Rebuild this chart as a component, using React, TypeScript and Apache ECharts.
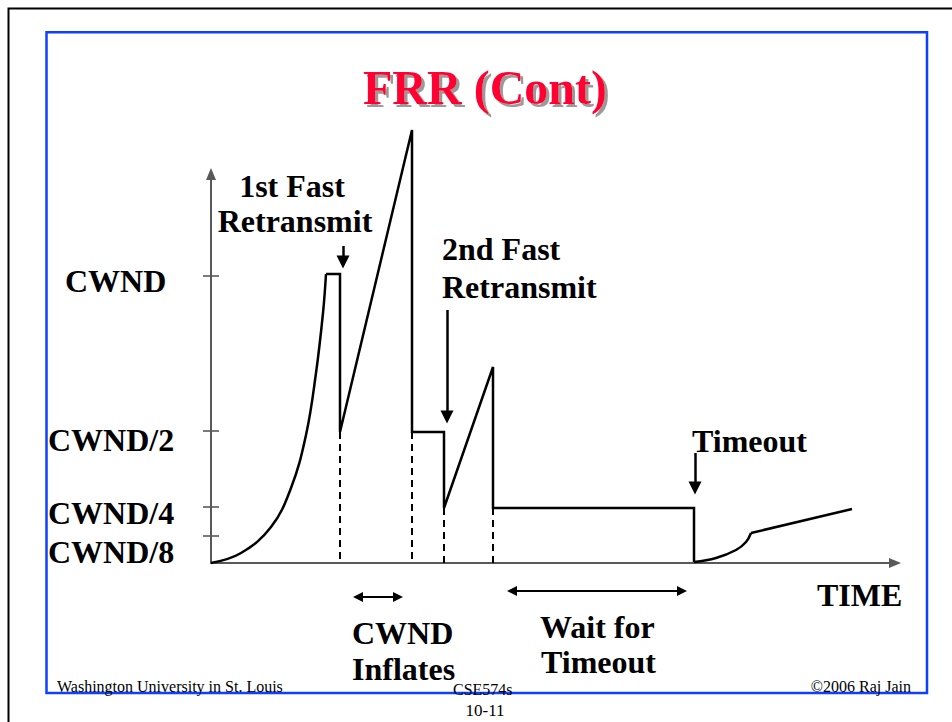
import React, { useEffect, useRef } from "react";
import * as echarts from "echarts";

// Time axis in drawing units (0 = origin), window size in drawing units (0 = origin)
const slowStartT = [0, 30, 60, 80, 95, 105, 112, 115];
const slowStartW = [0, 10, 36, 75, 128, 190, 250, 289];
const recoveryT = [115, 129, 129, 201, 201, 233, 233, 282, 282, 483, 483];
const recoveryW = [289, 289, 131, 433, 131, 131, 55, 196, 55, 55, 1];
const restartT = [483, 505, 525, 535, 540];
const restartW = [1, 5, 13, 21, 30];
const avoidT = [540, 641];
const avoidW = [30, 54];
const dashedT = [129, 201, 233, 282];
const dashedTop = [131, 131, 55, 55];
const yTickValues = [287, 132, 56, 27];
const yTickLabels = ["CWND", "CWND/2", "CWND/4", "CWND/8"];
// event arrows: x, from-y, to-y
const eventArrowX = [132, 236, 484];
const eventArrowFrom = [317, 253, 110];
const eventArrowTo = [301, 146, 75];
// span arrows: from-x, to-x, y
const spanFrom = [147, 301];
const spanTo = [187, 471];
const spanY = [-34, -28];

const AXIS = "#595959";
const SERIF = "'Liberation Serif', 'Times New Roman', 'DejaVu Serif', serif";

const zip = (a: number[], b: number[]) => a.map((v, i) => [v, b[i]]);

export default function App() {
  const ref = useRef<HTMLDivElement>(null);
  useEffect(() => {
    if (!ref.current) return;
    const chart = echarts.init(ref.current, null, { renderer: "svg" });
    const lineBase = {
      type: "line",
      showSymbol: false,
      clip: false,
      silent: true,
      lineStyle: { color: "#000", width: 2.5, join: "miter" },
    };
    const text = (
      t: string,
      x: number,
      y: number,
      align: string = "left",
      size: number = 32,
      weight: string = "bold",
      fill: string = "#000",
      extra: any = {}
    ) => ({
      type: "text",
      x,
      y,
      silent: true,
      style: {
        text: t,
        fontFamily: SERIF,
        fontSize: size,
        fontWeight: weight,
        fill,
        align,
        verticalAlign: "middle",
        ...extra,
      },
    });
    const tickLabelPos = [
      [65, 281],
      [48, 440],
      [48, 513],
      [48, 552],
    ];
    const option: any = {
      animation: false,
      grid: {
        left: 211,
        top: 174,
        width: 684,
        height: 389,
        containLabel: false,
        outerBoundsMode: "none",
      },
      xAxis: {
        type: "value",
        min: 0,
        max: 684,
        axisLine: {
          show: true,
          symbol: ["none", "triangle"],
          symbolSize: [10, 12],
          lineStyle: { color: AXIS, width: 2 },
        },
        axisTick: { show: false },
        axisLabel: { show: false },
        splitLine: { show: false },
      },
      yAxis: {
        type: "value",
        min: 0,
        max: 389,
        axisLine: {
          show: true,
          symbol: ["none", "triangle"],
          symbolSize: [10, 12],
          lineStyle: { color: AXIS, width: 2 },
        },
        axisTick: { show: false },
        axisLabel: { show: false },
        splitLine: { show: false },
      },
      series: [
        {
          ...lineBase,
          data: zip(slowStartT, slowStartW),
          smooth: 0.4,
        },
        { ...lineBase, data: zip(recoveryT, recoveryW) },
        {
          ...lineBase,
          data: zip(restartT, restartW),
          smooth: 0.4,
        },
        { ...lineBase, data: zip(avoidT, avoidW) },
        ...dashedT.map((t, i) => ({
          ...lineBase,
          data: [
            [t, dashedTop[i]],
            [t, 0],
          ],
          lineStyle: { color: "#000", width: 2, type: [7, 5] },
        })),
        {
          type: "scatter",
          silent: true,
          clip: false,
          symbol: "rect",
          symbolSize: [16, 2],
          itemStyle: { color: AXIS },
          data: yTickValues.map((v) => [0, v]),
        },
        {
          type: "lines",
          coordinateSystem: "cartesian2d",
          silent: true,
          clip: false,
          symbol: ["none", "triangle"],
          symbolSize: 13,
          lineStyle: { color: "#000", width: 2.5, opacity: 1 },
          data: eventArrowX.map((x, i) => ({
            coords: [
              [x, eventArrowFrom[i]],
              [x, eventArrowTo[i]],
            ],
          })),
        },
        {
          type: "lines",
          coordinateSystem: "cartesian2d",
          silent: true,
          clip: false,
          symbol: ["triangle", "triangle"],
          symbolSize: 10,
          lineStyle: { color: "#000", width: 2, opacity: 1 },
          data: spanFrom.map((x, i) => ({
            coords: [
              [x, spanY[i]],
              [spanTo[i], spanY[i]],
            ],
          })),
        },
      ],
      graphic: [
        {
          type: "rect",
          silent: true,
          shape: { x: 8.5, y: 8.5, width: 1000, height: 1000 },
          style: { fill: "none", stroke: "#000", lineWidth: 2 },
        },
        {
          type: "rect",
          silent: true,
          shape: { x: 46.5, y: 32.3, width: 880.5, height: 660.7 },
          style: { fill: "none", stroke: "#1040ff", lineWidth: 2.5 },
        },
        text("FRR (Cont)", 485, 87, "center", 48, "bold", "#ff0033", {
          textShadowColor: "#9a9a9a",
          textShadowOffsetX: 3,
          textShadowOffsetY: 3,
          textShadowBlur: 1,
        }),
        ...yTickLabels.map((l, i) => text(l, tickLabelPos[i][0], tickLabelPos[i][1])),
        text("1st Fast", 292, 186, "center"),
        text("Retransmit", 295, 221, "center"),
        text("2nd Fast", 442, 249),
        text("Retransmit", 442, 287),
        text("Timeout", 692, 441),
        text("TIME", 817, 595),
        text("CWND", 352, 633),
        text("Inflates", 352, 669),
        text("Wait for", 540, 627),
        text("Timeout", 541, 662),
        text("Washington University in St. Louis", 57, 686, "left", 16, "normal"),
        text("CSE574s", 453, 689, "left", 16, "normal"),
        text("©2006 Raj Jain", 911, 686, "right", 16, "normal"),
        text("10-11", 485, 710, "center", 17, "normal"),
      ],
    };
    chart.setOption(option);
    return () => chart.dispose();
  }, []);
  return (
    <div
      ref={ref}
      style={{
        position: "fixed",
        left: 0,
        top: 0,
        width: 952,
        height: 722,
        background: "#fff",
      }}
    />
  );
}
